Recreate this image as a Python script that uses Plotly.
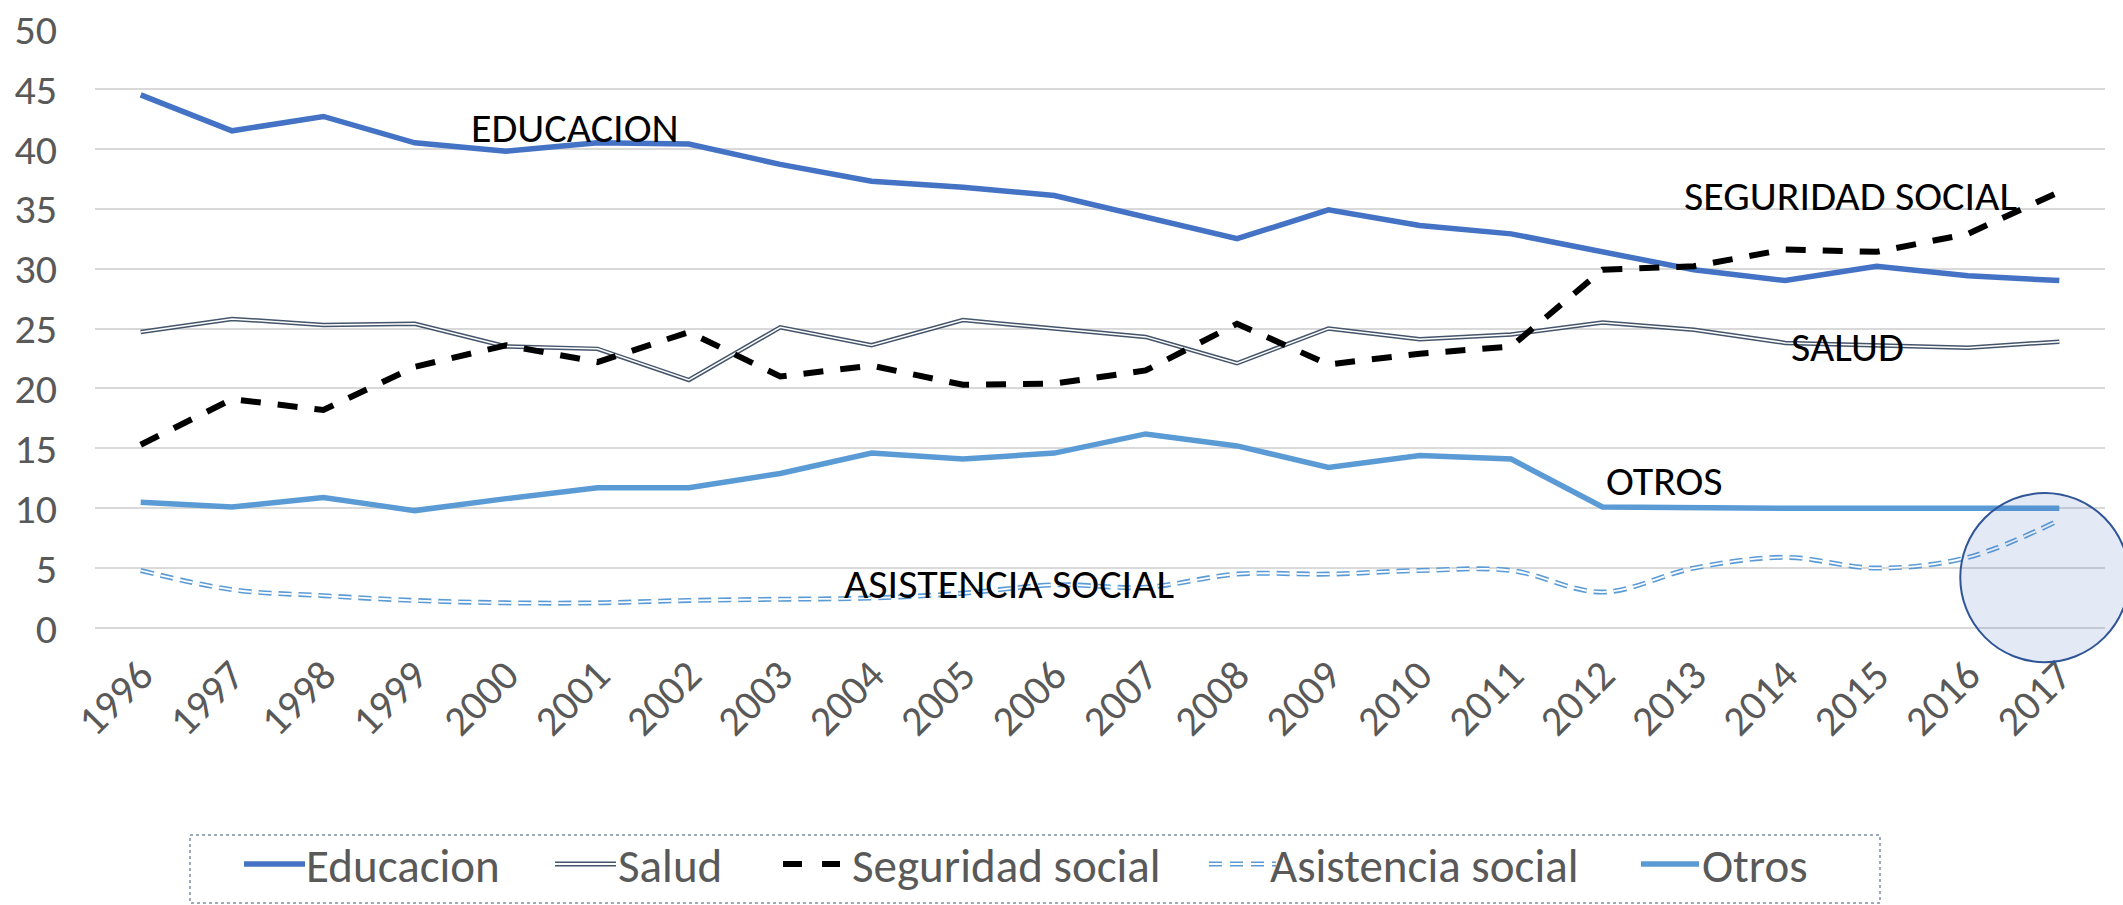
import plotly.graph_objects as go

years = [str(y) for y in range(1996, 2018)]
educacion = [44.5, 41.5, 42.7, 40.5, 39.8, 40.5, 40.4, 38.7, 37.3, 36.8, 36.1, 34.3,
             32.5, 34.9, 33.6, 32.9, 31.4, 29.9, 29.0, 30.2, 29.4, 29.0]
salud = [24.7, 25.8, 25.3, 25.4, 23.5, 23.3, 20.7, 25.1, 23.6, 25.7, 25.0, 24.3,
         22.1, 25.0, 24.1, 24.5, 25.5, 24.9, 23.8, 23.6, 23.4, 23.9]
seguridad = [15.3, 19.1, 18.2, 21.8, 23.6, 22.2, 24.7, 21.0, 21.9, 20.3, 20.4, 21.5,
             25.4, 22.0, 22.9, 23.5, 29.9, 30.2, 31.6, 31.4, 32.9, 36.4]
asistencia = [4.8, 3.2, 2.7, 2.3, 2.1, 2.1, 2.3, 2.4, 2.5, 2.9, 3.6, 3.4,
              4.5, 4.5, 4.8, 4.8, 3.0, 5.0, 5.9, 5.0, 5.9, 9.0]
otros = [10.5, 10.1, 10.9, 9.8, 10.8, 11.7, 11.7, 12.9, 14.6, 14.1, 14.6, 16.2,
         15.2, 13.4, 14.4, 14.1, 10.1, 10.0, 10.0, 10.0, 10.0, 10.0]

series_names = ["Educacion", "Salud", "Seguridad social", "Asistencia social", "Otros"]
labels = ["EDUCACION", "SALUD", "SEGURIDAD SOCIAL", "OTROS", "ASISTENCIA SOCIAL"]
y_ticks = [0, 5, 10, 15, 20, 25, 30, 35, 40, 45, 50]

FONT = "Carlito, Lato, sans-serif"
GRAY = "#595959"
W, H = 2123, 905
L, R, T, B = 95, 18, 29, 277
PW, PH = W - L - R, H - T - B


def px(x):
    return (x - L) / PW


def py(y):
    return (H - B - y) / PH


SEG_DASH = "20px,17px"
ASIS_DASH = "13px,7px"

fig = go.Figure()
fig.add_trace(go.Scatter(x=years, y=educacion, name=series_names[0], mode="lines",
                         line=dict(color="#4472C4", width=5.5), showlegend=False))
fig.add_trace(go.Scatter(x=years, y=salud, name=series_names[1], mode="lines",
                         line=dict(color="#44546A", width=4.5), showlegend=False))
fig.add_trace(go.Scatter(x=years, y=salud, name=series_names[1], mode="lines",
                         line=dict(color="white", width=1.5),
                         showlegend=False, hoverinfo="skip"))
fig.add_trace(go.Scatter(x=years, y=seguridad, name=series_names[2], mode="lines",
                         line=dict(color="black", width=6, dash=SEG_DASH), showlegend=False))
fig.add_trace(go.Scatter(x=years, y=asistencia, name=series_names[3], mode="lines",
                         line=dict(color="#5B9BD5", width=5, dash=ASIS_DASH,
                                   shape="spline", smoothing=1), showlegend=False))
fig.add_trace(go.Scatter(x=years, y=asistencia, name=series_names[3], mode="lines",
                         line=dict(color="white", width=1.8, dash=ASIS_DASH,
                                   shape="spline", smoothing=1),
                         showlegend=False, hoverinfo="skip"))
fig.add_trace(go.Scatter(x=years, y=otros, name=series_names[4], mode="lines",
                         line=dict(color="#5B9BD5", width=5.5), showlegend=False))

ann_pos = [(4.75, 41.8), (18.68, 23.5), (18.71, 36.1), (16.68, 12.35), (9.5, 3.75)]
for text, (ax, ay) in zip(labels, ann_pos):
    fig.add_annotation(x=ax, y=ay, xref="x", yref="y", text=text, showarrow=False,
                       font=dict(family=FONT, size=42, color="black"))

# highlight circle
fig.add_shape(type="circle", xref="paper", yref="paper",
              x0=0.928, x1=1.012, y0=-0.057, y1=0.2254,
              line=dict(color="#2F5597", width=2),
              fillcolor="rgba(68,114,196,0.15)", layer="above")

# legend (dashed box, symbols, texts)
fig.add_shape(type="rect", xref="paper", yref="paper",
              x0=px(190), x1=px(1880), y0=py(835), y1=py(903),
              line=dict(color="#7F8FA6", width=1.5, dash="dot"))
leg_y = py(866)
sym_ranges = [(244, 305), (555, 616), (783, 840), (1209, 1276), (1641, 1699)]
text_x = [304, 616, 850, 1268, 1700]
sym_styles = [
    [dict(color="#4472C4", width=5.5)],
    [dict(color="#44546A", width=5), dict(color="white", width=1.8)],
    [dict(color="black", width=6, dash="19px,20px")],
    [dict(color="#5B9BD5", width=5, dash="13px,8px"),
     dict(color="white", width=1.8, dash="13px,8px")],
    [dict(color="#5B9BD5", width=5.5)],
]
for name, (s0, s1), tx, styles in zip(series_names, sym_ranges, text_x, sym_styles):
    for st in styles:
        fig.add_shape(type="line", xref="paper", yref="paper",
                      x0=px(s0), x1=px(s1), y0=py(864), y1=py(864), line=st)
    fig.add_annotation(x=px(tx), y=leg_y, xref="paper", yref="paper", text=name,
                       showarrow=False, xanchor="left", yanchor="middle",
                       font=dict(family=FONT, size=47, color=GRAY))

fig.update_layout(
    width=W, height=H,
    margin=dict(l=L, r=R, t=T, b=B, autoexpand=False),
    paper_bgcolor="white", plot_bgcolor="white",
    font=dict(family=FONT, size=42, color=GRAY),
    showlegend=False,
    xaxis=dict(type="category", range=[-0.5, 21.5], tickangle=-45, showgrid=False,
               showline=False, ticks="", tickfont=dict(family=FONT, size=42, color=GRAY),
               ticklabelstandoff=13, automargin=False),
    yaxis=dict(range=[0, 50], tickvals=y_ticks, showgrid=True, gridcolor="#D9D9D9",
               gridwidth=1.5, zeroline=True, zerolinecolor="#D9D9D9", zerolinewidth=1.5,
               showline=False, ticks="", tickfont=dict(family=FONT, size=42, color=GRAY),
               ticklabelstandoff=37, automargin=False),
)

fig.write_html("out.html", config={"displayModeBar": False},
               post_script="document.body.style.margin='0';document.body.style.overflow='hidden';")
